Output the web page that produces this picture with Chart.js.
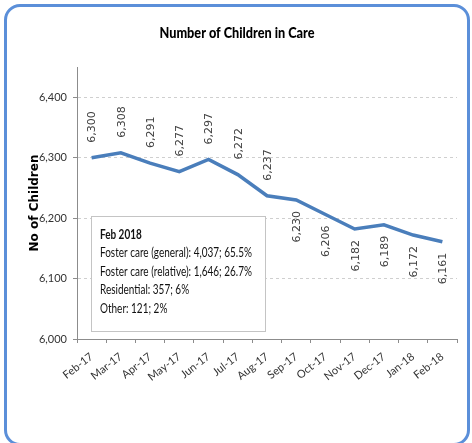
<!DOCTYPE html>
<html>
<head>
<meta charset="utf-8">
<script src="https://cdn.jsdelivr.net/npm/chart.js@4"></script>
<style>
  html, body { margin: 0; padding: 0; background: #ffffff; overflow: hidden; }
  #frame { position: absolute; left: 4px; top: 4px; width: 460px; height: 436px;
           border: 3px solid #5b8fd9; border-radius: 16px; }
  #c { position: absolute; left: 0; top: 0; }
</style>
</head>
<body>
<div id="frame"></div>
<canvas id="c" width="472" height="443"></canvas>
<script>
// ---- data ----
const chartTitle = 'Number of Children in Care';
const months = ['Feb-17','Mar-17','Apr-17','May-17','Jun-17','Jul-17','Aug-17','Sep-17','Oct-17','Nov-17','Dec-17','Jan-18','Feb-18'];
const children = [6300, 6308, 6291, 6277, 6297, 6272, 6237, 6230, 6206, 6182, 6189, 6172, 6161];
const yTicks = [6000, 6100, 6200, 6300, 6400];
const boxTitle = 'Feb 2018';
const placements = ['Foster care (general)', 'Foster care (relative)', 'Residential', 'Other'];
const placementCounts = [4037, 1646, 357, 121];
const placementPercents = ['65.5%', '26.7%', '6%', '2%'];
const labelsBelowFrom = 7; // labels of points from this index onward are drawn below the line

const SANS = "Lato, 'Open Sans', sans-serif";
const fmt = v => Number(v).toLocaleString('en-US');

// draw text horizontally condensed to mimic a narrow font
function narrowText(ctx, text, x, y, sx) {
  ctx.save();
  ctx.translate(x, y);
  ctx.scale(sx, 1);
  ctx.fillText(text, 0, 0);
  ctx.restore();
}

const overlay = {
  id: 'overlay',
  afterDatasetsDraw(chart) {
    const ctx = chart.ctx;
    // chart title
    ctx.save();
    ctx.fillStyle = '#000000';
    ctx.font = '900 15px ' + SANS;
    ctx.textAlign = 'center';
    ctx.textBaseline = 'middle';
    const tw = ctx.measureText(chartTitle).width;
    narrowText(ctx, chartTitle, 237, 33, Math.min(1, 155 / tw));
    ctx.restore();

    // data labels, rotated
    const meta = chart.getDatasetMeta(0);
    ctx.save();
    ctx.font = "11px 'DejaVu Sans', Verdana, sans-serif";
    ctx.fillStyle = '#404040';
    ctx.textBaseline = 'middle';
    meta.data.forEach((pt, i) => {
      const below = i >= labelsBelowFrom;
      ctx.save();
      ctx.translate(pt.x, below ? pt.y + 11 : pt.y - 15);
      ctx.rotate(-Math.PI / 2);
      ctx.textAlign = below ? 'right' : 'left';
      ctx.fillText(fmt(children[i]), 0, 1);
      ctx.restore();
    });
    ctx.restore();

    // annotation text box
    const bx = 91, by = 216, bw = 174, bh = 115;
    ctx.save();
    ctx.fillStyle = '#ffffff';
    ctx.fillRect(bx, by, bw, bh);
    ctx.strokeStyle = '#c4c4c4';
    ctx.lineWidth = 1;
    ctx.strokeRect(bx + 0.5, by + 0.5, bw, bh);
    ctx.textAlign = 'left';
    ctx.textBaseline = 'middle';
    ctx.fillStyle = '#111111';
    ctx.font = '13px ' + SANS;
    const lines = placements.map((p, i) => p + ': ' + fmt(placementCounts[i]) + '; ' + placementPercents[i]);
    const widest = Math.max(...lines.map(l => ctx.measureText(l).width));
    const sx = Math.min(1, 152 / widest);
    ctx.font = 'bold 13px ' + SANS;
    narrowText(ctx, boxTitle, bx + 9, by + 19, sx);
    ctx.font = '13px ' + SANS;
    lines.forEach((l, i) => narrowText(ctx, l, bx + 9, by + 37 + i * 18.5, sx));
    ctx.restore();
  }
};

new Chart(document.getElementById('c'), {
  type: 'line',
  data: {
    labels: months,
    datasets: [{
      data: children,
      borderColor: '#4a7ebb',
      borderWidth: 3.5,
      pointRadius: 0,
      tension: 0,
      fill: false
    }]
  },
  options: {
    responsive: false,
    animation: false,
    layout: { padding: { left: 0, right: 15, top: 67, bottom: 0 } },
    plugins: {
      legend: { display: false },
      tooltip: { enabled: false },
      title: { display: false }
    },
    scales: {
      x: {
        type: 'category',
        offset: true,
        grid: { drawOnChartArea: false, offset: true, tickLength: 4, tickColor: '#8c8c8c' },
        border: { color: '#8c8c8c' },
        ticks: { minRotation: 38, maxRotation: 38, autoSkip: false, padding: 7,
                 color: '#333333', font: { family: SANS, size: 11 } },
        afterFit(scale) { scale.height = 104; }
      },
      y: {
        min: 6000,
        max: 6450,
        afterBuildTicks(scale) { scale.ticks = yTicks.map(v => ({ value: v })); },
        ticks: { color: '#333333', padding: 6, font: { family: SANS, size: 11 },
                 callback: v => fmt(v) },
        grid: { color: '#cfcfcf', tickLength: 4, tickColor: '#8c8c8c' },
        border: { color: '#8c8c8c', dash: [3, 3] },
        title: { display: true, text: 'No of Children', color: '#000000',
                 font: { family: "'DejaVu Sans', Verdana, sans-serif", size: 12, weight: 'bold' },
                 padding: { top: 28, bottom: 0 } },
        afterFit(scale) { scale.width = 77; }
      }
    }
  },
  plugins: [overlay]
});
</script>
</body>
</html>
